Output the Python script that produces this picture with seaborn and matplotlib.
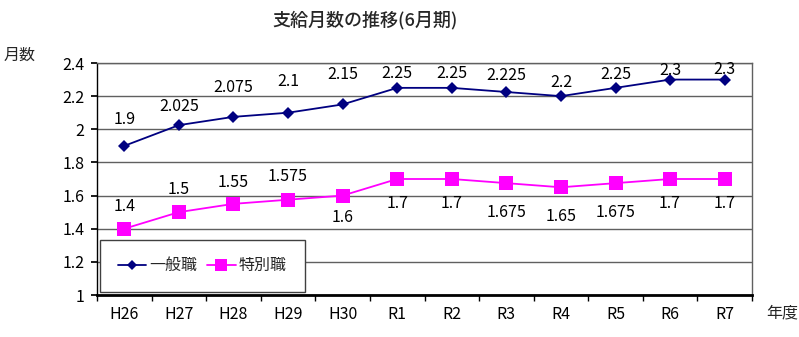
import matplotlib
matplotlib.use("Agg")
import matplotlib.pyplot as plt
import seaborn as sns
import pandas as pd
import numpy as np

years = ["H26", "H27", "H28", "H29", "H30", "R1", "R2", "R3", "R4", "R5", "R6", "R7"]
general = [1.9, 2.025, 2.075, 2.1, 2.15, 2.25, 2.25, 2.225, 2.2, 2.25, 2.3, 2.3]
special = [1.4, 1.5, 1.55, 1.575, 1.6, 1.7, 1.7, 1.675, 1.65, 1.675, 1.7, 1.7]
series_names = ["一般職", "特別職"]
title = "支給月数の推移(6月期)"

# label vertical offsets in pixels (positive = up)
gen_off = [26, 19, 29, 31, 30, 14, 14, 16, 14, 13, 9, 10]
spe_off = [22, 23, 21, 23, -22, -25, -25, -29, -29, -29, -24, -24]

sns.set_theme(style="white")
plt.rcParams['font.family'] = ['Noto Sans CJK JP', 'DejaVu Sans']

fig = plt.figure(figsize=(7.99, 3.37), dpi=100)
ax = fig.add_axes([97/799, 1-295/337, (752-97)/799, (295-63)/337])

df = pd.DataFrame({
    "idx": list(range(len(years))) * 2,
    "value": general + special,
    "series": [series_names[0]] * len(years) + [series_names[1]] * len(years),
})

palette = {series_names[0]: "#000080", series_names[1]: "#FF00FF"}
sns.lineplot(data=df, x="idx", y="value", hue="series", style="series",
             markers={series_names[0]: "D", series_names[1]: "s"},
             dashes=False, palette=palette, ax=ax, linewidth=1.3,
             markersize=7, markeredgewidth=0)
for line in ax.get_lines():
    if line.get_marker() == "s":
        line.set_markersize(9.5)
    elif line.get_marker() == "D":
        line.set_markersize(6)

ax.set_xlim(-0.5, len(years) - 0.5)
ax.set_ylim(1, 2.4)
ax.set_yticks(np.arange(1.0, 2.41, 0.2))
ax.set_yticklabels(["1", "1.2", "1.4", "1.6", "1.8", "2", "2.2", "2.4"])
ax.set_xticks(range(len(years)))
ax.set_xticklabels(years)
ax.set_xticks(np.arange(-0.5, len(years), 1), minor=True)
ax.tick_params(axis="x", which="major", length=0, labelsize=11.5, pad=8, colors="black")
ax.tick_params(axis="x", which="minor", length=4, direction="out", bottom=True, color="black")
ax.tick_params(axis="y", which="major", length=4, direction="out", left=True, labelsize=11.5, pad=5, colors="black")
ax.set_xlabel("")
ax.set_ylabel("")
ax.grid(axis="y", color="#606060", linewidth=1)
ax.set_axisbelow(True)

for s in ["top", "right"]:
    ax.spines[s].set_color("#606060")
    ax.spines[s].set_linewidth(1)
ax.spines["left"].set_color("black")
ax.spines["left"].set_linewidth(1)
ax.spines["bottom"].set_color("black")
ax.spines["bottom"].set_linewidth(2)

def fmt(v):
    return ("%.3f" % v).rstrip("0").rstrip(".")

px2pt = 72 / 100
for i, v in enumerate(general):
    ax.annotate(fmt(v), (i, v), xytext=(0, gen_off[i] * px2pt), textcoords="offset points",
                ha="center", va="center", fontsize=11.5, color="black")
for i, v in enumerate(special):
    ax.annotate(fmt(v), (i, v), xytext=(0, spe_off[i] * px2pt), textcoords="offset points",
                ha="center", va="center", fontsize=11.5, color="black")

leg = ax.legend(loc="lower left", bbox_to_anchor=(3/655, 3/232), borderaxespad=0,
                frameon=True, fancybox=False,
                ncol=2, fontsize=11.5, handlelength=1.8, columnspacing=0.6,
                borderpad=1.1, handletextpad=0.2, markerscale=0.85)
leg.get_frame().set_edgecolor("#404040")
leg.get_frame().set_linewidth(1)
leg.get_frame().set_facecolor("white")
leg.get_frame().set_alpha(1)

fig.text(365/799, 1-20/337, title, ha="center", va="center", fontsize=13, fontweight="medium")
fig.text(20/799, 1-55/337, "月数", ha="center", va="center", fontsize=11.5)
fig.text(782/799, 1-313/337, "年度", ha="center", va="center", fontsize=11.5)

fig.savefig("out.png", dpi=100, facecolor="white")
